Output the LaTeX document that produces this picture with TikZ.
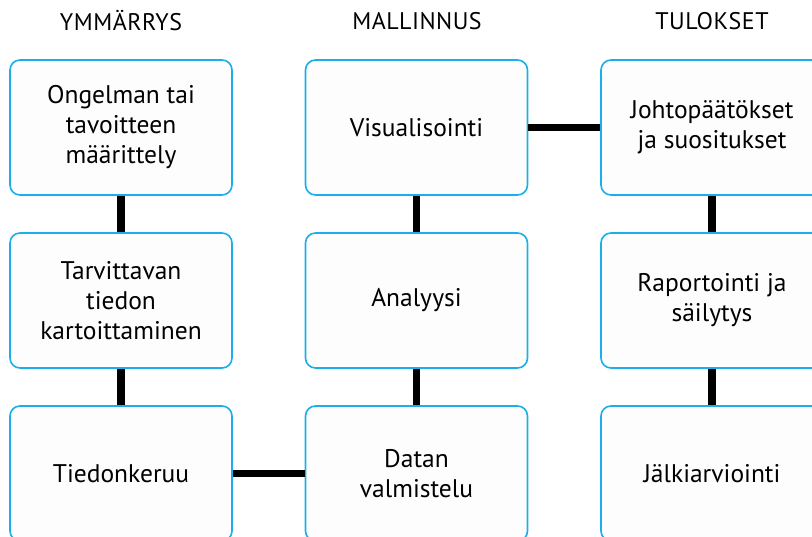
\documentclass[tikz,border=0pt]{standalone}
\usepackage{fontspec}
\setmainfont{PT Sans}
\newfontfamily\headfont[LetterSpace=2]{PT Sans}
\definecolor{boxblue}{HTML}{1AAFEA}
\definecolor{boxfill}{HTML}{FDFDFD}
\begin{document}
\begin{tikzpicture}[x=1pt,y=-1pt,
  stage/.style={draw=boxblue, line width=1.6pt, fill=boxfill, rounded corners=10pt,
    minimum width=222pt, minimum height=135pt, inner sep=0pt, align=center,
    font=\fontsize{25.5}{30}\selectfont},
  head/.style={font=\headfont\fontsize{24}{26}\selectfont, anchor=center},
  link/.style={line width=7.5pt, black}]
\useasboundingbox (0,0) rectangle (812,537);
% headers
\node[head] (h1) at (121,21) {YMMÄRRYS};
\node[head] (h2) at (417,21) {MALLINNUS};
\node[head] (h3) at (712,21) {TULOKSET};
% boxes
\node[stage] (a1) at (121,127.5) {Ongelman tai\\tavoitteen\\määrittely};
\node[stage] (a2) at (121,300.5) {Tarvittavan\\tiedon\\kartoittaminen};
\node[stage] (a3) at (121,473.5) {Tiedonkeruu};
\node[stage] (b1) at (416.5,127.5) {Visualisointi};
\node[stage] (b2) at (416.5,300.5) {Analyysi};
\node[stage] (b3) at (416.5,473.5) {Datan\\valmistelu};
\node[stage] (c1) at (712,127.5) {Johtopäätökset\\ja suositukset};
\node[stage] (c2) at (712,300.5) {Raportointi ja\\säilytys};
\node[stage] (c3) at (712,473.5) {Jälkiarviointi};
% connectors
\draw[link] (a1.south) -- (a2.north);
\draw[link] (a2.south) -- (a3.north);
\draw[link] (a3.east) -- (b3.west);
\draw[link] (b3.north) -- (b2.south);
\draw[link] (b2.north) -- (b1.south);
\draw[link] (b1.east) -- (c1.west);
\draw[link] (c1.south) -- (c2.north);
\draw[link] (c2.south) -- (c3.north);
\end{tikzpicture}
\end{document}
